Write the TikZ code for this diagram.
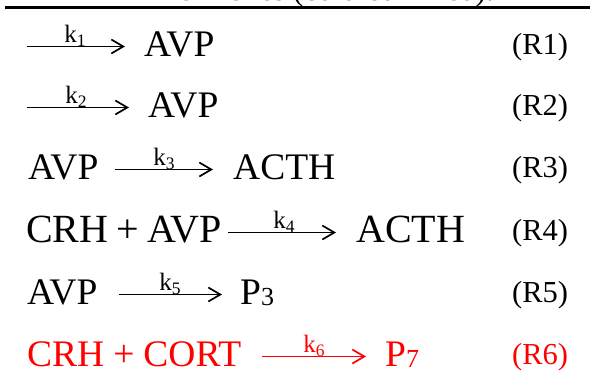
\documentclass[tikz,border=0pt]{standalone}
\usepackage{fontspec}
\setmainfont{Liberation Serif}
\usetikzlibrary{arrows.meta}
\definecolor{hred}{RGB}{255,0,0}
\newcommand{\mainsz}{\fontsize{37.5bp}{40bp}\selectfont}
\newcommand{\bigsz}{\fontsize{40bp}{42bp}\selectfont}
\newcommand{\lblsz}{\fontsize{30.5bp}{32bp}\selectfont}
\newcommand{\ksym}[1]{{\fontsize{25bp}{25bp}\selectfont k\raisebox{-4bp}{\fontsize{17.5bp}{17.5bp}\selectfont #1}}}
\newcommand{\pdig}[1]{\raisebox{-1.5bp}{\fontsize{26bp}{26bp}\selectfont #1}}
\newcommand{\plusw}[1]{\hspace{#1}+\hspace{#1}}
\begin{document}
\begin{tikzpicture}[x=1bp, y=-1bp,
  txt/.style={inner sep=0, anchor=base west, font=\mainsz},
  lbl/.style={inner sep=0, anchor=base west, font=\lblsz},
  rate/.style={inner sep=0, anchor=base},
  rxn/.style={-{Straight Barb[length=12bp,width=14bp,line width=1.7bp]}, line width=1.7bp},
  rule/.style={line width=2.4bp}]
\useasboundingbox (0,0) rectangle (595,376);
% caption (cut off at the top, as in the reference) and rule
\node[inner sep=0, anchor=base, font=\fontsize{31bp}{31bp}\selectfont] (cap) at (295,0.9) {HPA hormones (colored in red).};
\coordinate (rl) at (5,7.5);
\coordinate (rr) at (590,7.5);
\draw[rule] (rl) -- (rr);
% R1
\coordinate (s1) at (27,46.5);
\coordinate (e1) at (125,46.5);
\draw[rxn] (s1) -- (e1);
\node[rate] (k1) at (75,42) {\ksym{1}};
\node[txt] (p1) at (144,56) {AVP};
\node[lbl] (l1) at (512,54) {(R1)};
% R2
\coordinate (s2) at (27,107.5);
\coordinate (e2) at (129,107.5);
\draw[rxn] (s2) -- (e2);
\node[rate] (k2) at (76,103) {\ksym{2}};
\node[txt] (p2) at (148,117) {AVP};
\node[lbl] (l2) at (512,115) {(R2)};
% R3
\node[txt] (r3) at (28,179) {AVP};
\coordinate (s3) at (115,169.5);
\coordinate (e3) at (213,169.5);
\draw[rxn] (s3) -- (e3);
\node[rate] (k3) at (164,165) {\ksym{3}};
\node[txt] (p3) at (233,179) {ACTH};
\node[lbl] (l3) at (512,177) {(R3)};
% R4
\node[txt, font=\bigsz] (r4) at (26,242) {CRH\plusw{8bp}AVP};
\coordinate (s4) at (228,232.5);
\coordinate (e4) at (336,232.5);
\draw[rxn] (s4) -- (e4);
\node[rate] (k4) at (284,228) {\ksym{4}};
\node[txt, font=\bigsz] (p4) at (356,242) {ACTH};
\node[lbl] (l4) at (512,240) {(R4)};
% R5
\node[txt] (r5) at (27,304) {AVP};
\coordinate (s5) at (119,294.5);
\coordinate (e5) at (222,294.5);
\draw[rxn] (s5) -- (e5);
\node[rate] (k5) at (170,290) {\ksym{5}};
\node[txt] (p5) at (240,304) {P\pdig{3}};
\node[lbl] (l5) at (512,302) {(R5)};
% R6 (red)
\node[txt, text=hred] (r6) at (27,366) {CRH\plusw{9bp}CORT};
\coordinate (s6) at (262,356.5);
\coordinate (e6) at (366,356.5);
\draw[rxn, hred] (s6) -- (e6);
\node[rate, text=hred] (k6) at (314,352) {\ksym{6}};
\node[txt, text=hred] (p6) at (385,366) {P\pdig{7}};
\node[lbl, text=hred] (l6) at (512,364) {(R6)};
\end{tikzpicture}
\end{document}
